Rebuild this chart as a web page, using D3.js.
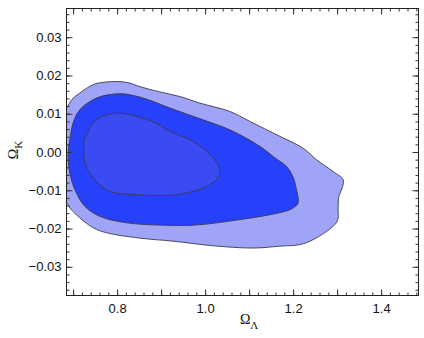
<!DOCTYPE html>
<html>
<head>
<meta charset="utf-8">
<script src="https://cdn.jsdelivr.net/npm/d3@7"></script>
<style>
  body { margin: 0; background: #fff; }
  svg { display: block; }
  .tick text { font-family: "Liberation Sans", Arial, sans-serif; font-size: 13px; fill: #111; }
  .axis path { display: none; }
  .axis line { stroke: #333; stroke-width: 1; }
  .title { font-family: "Liberation Serif", "DejaVu Serif", serif; font-size: 14px; fill: #111; }
</style>
</head>
<body>
<div id="chart"></div>
<script>
// axis ranges and ticks
var xDomain = [0.685, 1.485];
var yDomain = [-0.0375, 0.0375];
var xLabelTicks = [0.8, 1.0, 1.2, 1.4];
var xMajorTicks = [0.7, 0.8, 0.9, 1.0, 1.1, 1.2, 1.3, 1.4];
var yLabelTicks = [-0.03, -0.02, -0.01, 0.00, 0.01, 0.02, 0.03];

// confidence contours, [Omega_Lambda, Omega_K]
var outerContour = [
	[0.675, 0.0118], [0.6857, 0.0118], [0.697, 0.0137], [0.7152, 0.0154], [0.7455, 0.0176],
	[0.7682, 0.0182], [0.806, 0.0184], [0.8289, 0.0180], [0.8516, 0.0171], [0.897, 0.0157],
	[0.9425, 0.0145], [0.9875, 0.0128], [1.0561, 0.0106], [1.1016, 0.0080], [1.1698, 0.0041],
	[1.2227, 0.0010], [1.2532, -0.0020], [1.2909, -0.0051], [1.3136, -0.0072], [1.3118, -0.0093],
	[1.3039, -0.0116], [1.3023, -0.0151], [1.3016, -0.0177], [1.2909, -0.0194], [1.2455, -0.0229],
	[1.2153, -0.0242], [1.1698, -0.0246], [1.1091, -0.0251], [1.0182, -0.0245],
	[0.9273, -0.0233], [0.8516, -0.0225], [0.7759, -0.0211], [0.7455, -0.0198], [0.7152, -0.0172],
	[0.6925, -0.0146], [0.6857, -0.0133], [0.675, -0.0133]
];
var middleContour = [
	[0.6886, -0.0003], [0.6925, 0.0032], [0.7000, 0.0076], [0.7107, 0.0103], [0.7227, 0.0119],
	[0.7532, 0.0141], [0.7834, 0.0150], [0.8136, 0.0152], [0.8591, 0.0141], [0.9198, 0.0115],
	[0.9955, 0.0084], [1.0561, 0.0058], [1.1243, 0.0015], [1.1584, -0.0015], [1.1850, -0.0038],
	[1.1993, -0.0064], [1.2077, -0.0098], [1.2114, -0.0133], [1.2039, -0.0143], [1.1925, -0.0151],
	[1.1470, -0.0164], [1.0714, -0.0178], [0.9880, -0.0190], [0.9425, -0.0192], [0.8214, -0.0185],
	[0.7607, -0.0168], [0.7266, -0.0142], [0.7039, -0.0098], [0.6925, -0.0055]
];
var innerContour = [
	[0.7243, 0.0006], [0.7255, 0.0032], [0.7305, 0.0045], [0.7455, 0.0076], [0.7607, 0.0090],
	[0.7759, 0.0097], [0.8061, 0.0102], [0.8441, 0.0093], [0.8857, 0.0077], [0.9198, 0.0054],
	[0.9652, 0.0032], [1.0032, 0.0002], [1.0243, -0.0025], [1.0334, -0.0051], [1.0259, -0.0072],
	[0.9955, -0.0094], [0.9577, -0.0107], [0.9198, -0.0113], [0.8364, -0.0111], [0.7834, -0.0103],
	[0.7532, -0.0077], [0.7334, -0.0046], [0.7255, -0.0020]
];
var contourColors = ["#a0a4f7", "#2740fa", "#3b4bf3"];

var width = 424, height = 338;
var margin = {top: 8.5, right: 5.5, bottom: 42.5, left: 66.5};
var w = width - margin.left - margin.right,
	h = height - margin.top - margin.bottom;

var svg = d3.select("#chart").append("svg")
	.attr("width", width)
	.attr("height", height);

var g = svg.append("g")
	.attr("transform", "translate(" + margin.left + "," + margin.top + ")");

var x = d3.scaleLinear().domain(xDomain).range([0, w]);
var y = d3.scaleLinear().domain(yDomain).range([h, 0]);

g.append("clipPath").attr("id", "plotclip")
	.append("rect").attr("width", w).attr("height", h);

var line = d3.line()
	.x(function(d) { return x(d[0]); })
	.y(function(d) { return y(d[1]); })
	.curve(d3.curveCatmullRomClosed.alpha(0.5));

var contours = g.append("g").attr("clip-path", "url(#plotclip)");
[outerContour, middleContour, innerContour].forEach(function(c, i) {
	contours.append("path")
		.datum(c)
		.attr("d", line)
		.attr("fill", contourColors[i])
		.attr("stroke", "#3a3a4a")
		.attr("stroke-width", 0.9);
});

// minor ticks
var xMinor = d3.range(0.70, 1.4801, 0.02);
var yMinor = d3.range(-0.036, 0.03601, 0.002);

function addAxis(axis, tf) {
	return g.append("g").attr("class", "axis").attr("transform", tf).call(axis);
}

addAxis(d3.axisBottom(x).tickValues(xMinor).tickSize(-3).tickFormat(""), "translate(0," + h + ")");
addAxis(d3.axisTop(x).tickValues(xMinor).tickSize(-3).tickFormat(""), "translate(0,0)");
addAxis(d3.axisBottom(x).tickValues(xMajorTicks).tickSize(-6).tickFormat(""), "translate(0," + h + ")");
addAxis(d3.axisTop(x).tickValues(xMajorTicks).tickSize(-6).tickFormat(""), "translate(0,0)");
addAxis(d3.axisBottom(x).tickValues(xLabelTicks).tickSize(0).tickPadding(8).tickFormat(d3.format(".1f")), "translate(0," + h + ")");

addAxis(d3.axisLeft(y).tickValues(yMinor).tickSize(-3).tickFormat(""), "translate(0,0)");
addAxis(d3.axisRight(y).tickValues(yMinor).tickSize(-3).tickFormat(""), "translate(" + w + ",0)");
addAxis(d3.axisLeft(y).tickValues(yLabelTicks).tickSize(-6).tickPadding(5).tickFormat(d3.format(".2f")), "translate(0,0)");
addAxis(d3.axisRight(y).tickValues(yLabelTicks).tickSize(-6).tickFormat(""), "translate(" + w + ",0)");

// frame
g.append("rect")
	.attr("width", w).attr("height", h)
	.attr("fill", "none")
	.attr("stroke", "#222")
	.attr("stroke-width", 1);

// axis titles
var xt = svg.append("text").attr("class", "title")
	.attr("x", margin.left + x(1.1)).attr("y", 324)
	.attr("text-anchor", "middle");
xt.append("tspan").text("\u03A9");
xt.append("tspan").attr("dy", 5).attr("font-size", "11px").text("\u039B");

var yt = svg.append("text").attr("class", "title")
	.attr("transform", "translate(18," + (margin.top + y(0.0005)) + ") rotate(-90)")
	.attr("text-anchor", "middle");
yt.append("tspan").text("\u03A9");
yt.append("tspan").attr("dy", 4).attr("font-size", "11px").text("K");
</script>
</body>
</html>
